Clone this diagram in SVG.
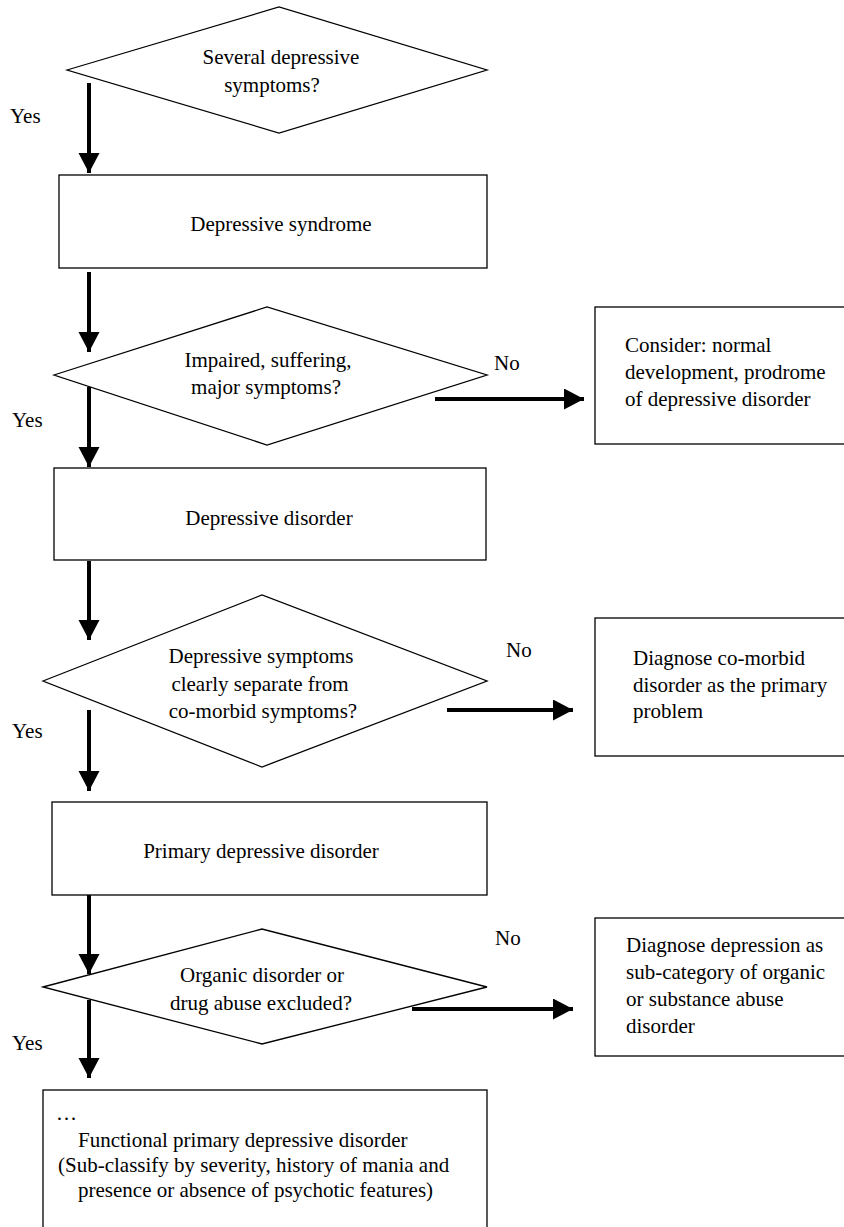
<svg xmlns="http://www.w3.org/2000/svg" width="844" height="1227" viewBox="0 0 844 1227">
<defs>
<style>
.s{fill:#fff;stroke:#000;stroke-width:1.3}
.t{font-family:"Liberation Serif","Times New Roman",serif;font-size:21px;fill:#000}
.m{text-anchor:middle}
.c{stroke:#000;stroke-width:4;fill:none;marker-end:url(#ah)}
</style>
<marker id="ah" markerUnits="userSpaceOnUse" markerWidth="21" markerHeight="22" refX="20" refY="10.5" orient="auto" viewBox="0 0 21 22">
<path d="M0,0 L20,10.5 L0,21 Z" fill="#000"/>
</marker>
</defs>
<rect width="844" height="1227" fill="#fff"/>
<g id="d1">
<polygon class="s" points="67,70 279,7 487,70 279,133"/>
<text class="t m" x="281" y="64">Several depressive</text>
<text class="t m" x="272" y="92">symptoms?</text>
</g>
<g id="r1">
<rect class="s" x="59" y="175" width="428" height="93"/>
<text class="t m" x="281" y="231">Depressive syndrome</text>
</g>
<g id="d2">
<polygon class="s" points="54,375 267,307 487,375 267,445"/>
<text class="t m" x="268" y="367">Impaired, suffering,</text>
<text class="t m" x="266" y="394">major symptoms?</text>
</g>
<g id="b1">
<rect class="s" x="595" y="307" width="262" height="137"/>
<text class="t" x="625" y="352">Consider: normal</text>
<text class="t" x="625" y="379">development, prodrome</text>
<text class="t" x="625" y="406">of depressive disorder</text>
</g>
<g id="r2">
<rect class="s" x="54" y="468" width="432" height="92"/>
<text class="t m" x="269" y="525">Depressive disorder</text>
</g>
<g id="d3">
<polygon class="s" points="43,681 262,595 487,681 262,767"/>
<text class="t m" x="261" y="663">Depressive symptoms</text>
<text class="t m" x="260" y="691">clearly separate from</text>
<text class="t m" x="263" y="718">co-morbid symptoms?</text>
</g>
<g id="b2">
<rect class="s" x="595" y="618" width="262" height="138"/>
<text class="t" x="633" y="665">Diagnose co-morbid</text>
<text class="t" x="633" y="692">disorder as the primary</text>
<text class="t" x="633" y="718">problem</text>
</g>
<g id="r3">
<rect class="s" x="52" y="802" width="435" height="93"/>
<text class="t m" x="261" y="858">Primary depressive disorder</text>
</g>
<g id="d4">
<polygon class="s" points="43,987 262,929 487,987 262,1044"/>
<text class="t m" x="262" y="982">Organic disorder or</text>
<text class="t m" x="261" y="1010">drug abuse excluded?</text>
</g>
<g id="b3">
<rect class="s" x="595" y="918" width="262" height="138"/>
<text class="t" x="626" y="952">Diagnose depression as</text>
<text class="t" x="626" y="979">sub-category of organic</text>
<text class="t" x="626" y="1006">or substance abuse</text>
<text class="t" x="626" y="1033">disorder</text>
</g>
<g id="r4">
<rect class="s" x="43" y="1090" width="444" height="150"/>
<text class="t" x="56" y="1120">…</text>
<text class="t" x="78" y="1147">Functional primary depressive disorder</text>
<text class="t" x="58" y="1172">(Sub-classify by severity, history of mania and</text>
<text class="t" x="78" y="1197">presence or absence of psychotic features)</text>
</g>
<g id="connectors">
<line class="c" x1="89" y1="83" x2="89" y2="173"/>
<line class="c" x1="89" y1="272" x2="89" y2="352"/>
<line class="c" x1="89" y1="387" x2="89" y2="467"/>
<line class="c" x1="89" y1="561" x2="89" y2="640"/>
<line class="c" x1="89" y1="710" x2="89" y2="791"/>
<line class="c" x1="89" y1="895" x2="89" y2="974"/>
<line class="c" x1="89" y1="1000" x2="89" y2="1078"/>
<line class="c" x1="435" y1="399" x2="584" y2="399"/>
<line class="c" x1="447" y1="710" x2="573" y2="710"/>
<line class="c" x1="412" y1="1009" x2="573" y2="1009"/>
</g>
<g id="labels">
<text class="t" x="10" y="123">Yes</text>
<text class="t" x="494" y="370">No</text>
<text class="t" x="12" y="427">Yes</text>
<text class="t" x="506" y="657">No</text>
<text class="t" x="12" y="738">Yes</text>
<text class="t" x="495" y="945">No</text>
<text class="t" x="12" y="1050">Yes</text>
</g>
</svg>
